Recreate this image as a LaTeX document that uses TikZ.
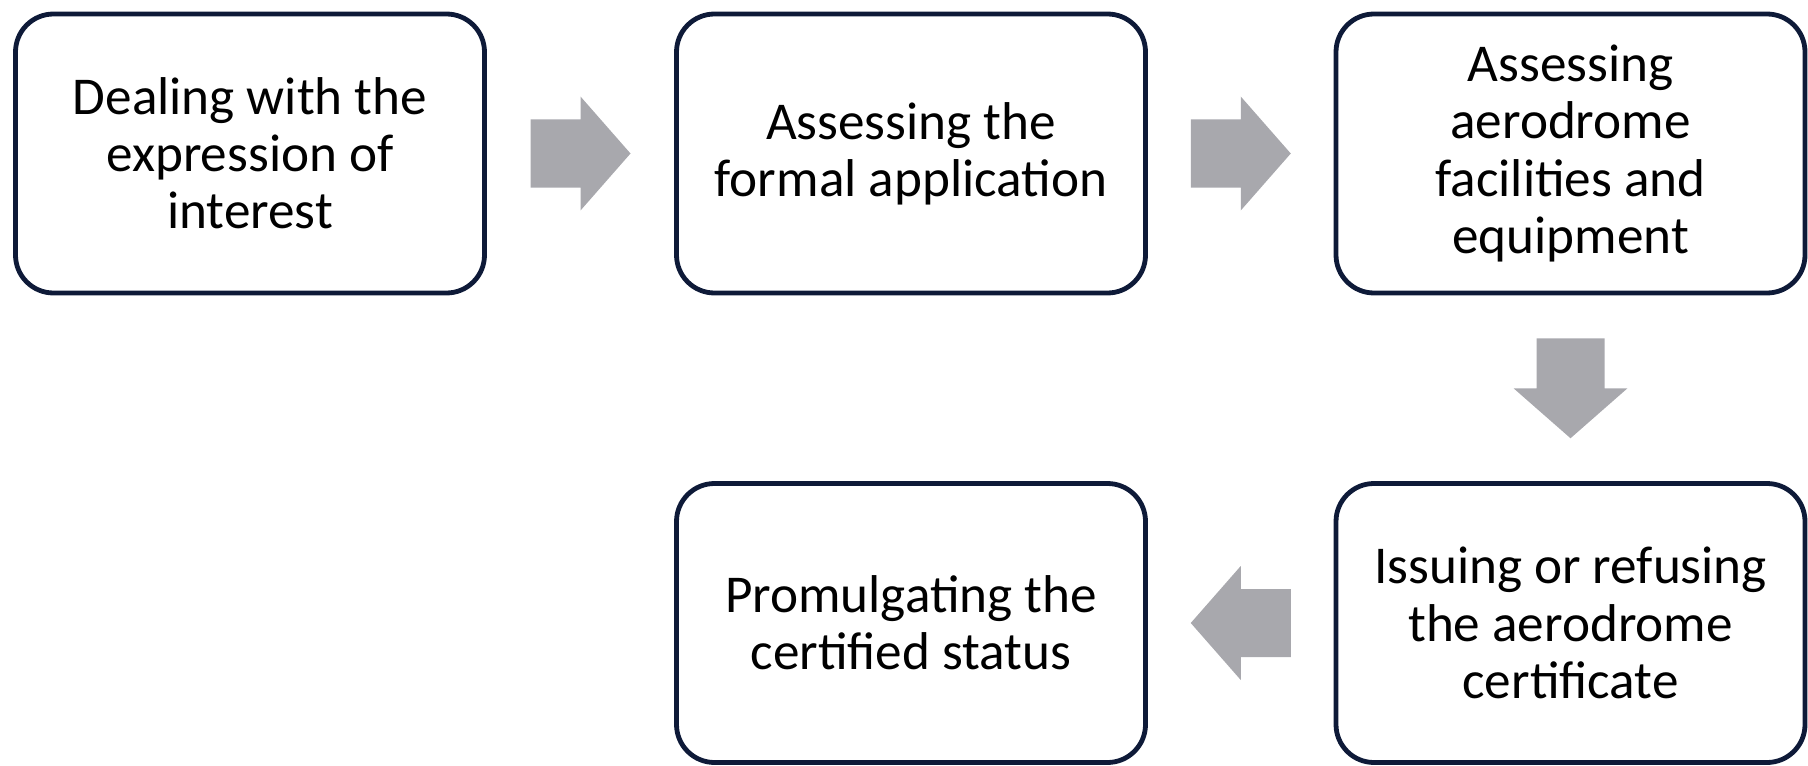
\documentclass[tikz,border=0pt]{standalone}
\usepackage{fontspec}
\setmainfont{Carlito}
\usetikzlibrary{calc}
\definecolor{boxline}{RGB}{14,26,56}
\definecolor{arrowgray}{RGB}{168,168,173}
\begin{document}
\begin{tikzpicture}[x=0.5pt,y=-0.5pt,
  stepbox/.style={draw=boxline,line width=2.4pt,rounded corners=19pt,
    minimum width=234.5pt,minimum height=139.5pt,inner sep=0pt,
    align=center,font=\fontsize{26.6}{28.6}\selectfont},
  fatarrow/.pic={\fill[arrowgray] (-50,-34) -- (0,-34) -- (0,-57) -- (50,0)
    -- (0,57) -- (0,34) -- (-50,34) -- cycle;}]
\useasboundingbox (0,0) rectangle (1808,765);
% top row
\node[stepbox] (interest) at (250,153.5) {Dealing with the\\expression of\\interest};
\node[stepbox] (application) at (911,153.5) {Assessing the\\formal application};
\node[stepbox] (facilities) at (1570.5,153.5) {Assessing\\aerodrome\\facilities and\\equipment};
% bottom row
\node[stepbox] (certificate) at (1570.5,623) {Issuing or refusing\\the aerodrome\\certificate};
\node[stepbox] (status) at (911,623) {Promulgating the\\certified status};
% block arrows
\pic at ($(interest.east)!0.5!(application.west)$) {fatarrow};
\pic at ($(application.east)!0.5!(facilities.west)$) {fatarrow};
\pic[rotate=-90] at ($(facilities.south)!0.5!(certificate.north)$) {fatarrow};
\pic[rotate=180] at ($(certificate.west)!0.5!(status.east)$) {fatarrow};
\end{tikzpicture}
\end{document}
